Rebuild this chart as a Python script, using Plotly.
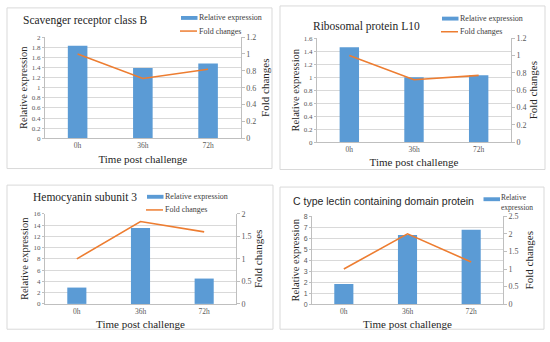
import plotly.graph_objects as go

# ---------------- data ----------------
categories = ["0h", "36h", "72h"]
series_names = ["Relative expression", "Fold changes"]

title_1 = "Scavenger receptor class B"
relative_1 = [1.83, 1.39, 1.48]
fold_1 = [1.0, 0.71, 0.82]

title_2 = "Ribosomal protein L10"
relative_2 = [1.46, 1.0, 1.03]
fold_2 = [1.0, 0.72, 0.77]

title_3 = "Hemocyanin subunit 3"
relative_3 = [2.9, 13.5, 4.5]
fold_3 = [1.0, 1.83, 1.6]

title_4 = "C type lectin containing domain protein"
relative_4 = [1.83, 6.3, 6.78]
fold_4 = [1.0, 2.0, 1.2]

left_ranges = [(2, 0.2), (1.6, 0.2), (16, 2), (8, 1)]
right_ranges = [(1.2, 0.2), (1.2, 0.2), (2, 0.5), (2.5, 0.5)]

# ---------------- layout helpers ----------------
W, H = 550, 342
BAR = "#5B9BD5"
LINE = "#ED7D31"
SERIF = "Liberation Serif"
SANS = "Liberation Sans"
TICK = "#595959"
GRID = "#D9D9D9"
AXIS = "#BFBFBF"
TXT = "#262626"


def px(x):
    return x / W


def py(y):
    return 1 - y / H


panels = [
    dict(title=title_1, rel=relative_1, fold=fold_1,
         plot=(45, 240.7, 34, 138), border=(7, 272, 4, 169),
         title_xy=(21, 17), title_font=(SERIF, 11.5),
         legend_xy=(181, 14.3), legend_both=True, left_tick_font=SERIF,
         right_standoff=6),
    dict(title=title_2, rel=relative_2, fold=fold_2,
         plot=(317, 511, 35, 142), border=(280, 545, 2, 170),
         title_xy=(311, 23), title_font=(SERIF, 11.5),
         legend_xy=(442, 15), legend_both=True, left_tick_font=SERIF,
         right_standoff=2),
    dict(title=title_3, rel=relative_3, fold=fold_3,
         plot=(45, 236, 215.5, 308), border=(7, 273, 186, 334),
         title_xy=(31, 199), title_font=(SERIF, 11.5),
         legend_xy=(147, 198), legend_both=True, left_tick_font=SERIF,
         right_standoff=1),
    dict(title=title_4, rel=relative_4, fold=fold_4,
         plot=(312, 503, 218, 308.3), border=(280, 544, 188, 334),
         title_xy=(291, 202.5), title_font=(SANS, 10.5),
         legend_xy=(483.5, 200.5), legend_both=False, left_tick_font=SANS,
         right_standoff=7),
]

fig = go.Figure()
layout = dict(
    width=W, height=H,
    margin=dict(l=0, r=0, t=0, b=0),
    paper_bgcolor="white", plot_bgcolor="white",
    showlegend=False,
    shapes=[], annotations=[],
    font=dict(family=SERIF, color=TXT),
)

for i, p in enumerate(panels):
    k = i + 1
    xa = "x" if k == 1 else f"x{k}"
    ya1 = f"y{2 * k - 1}" if k > 1 else "y"
    ya2 = f"y{2 * k}"
    xkey = "xaxis" if k == 1 else f"xaxis{k}"
    ykey1 = "yaxis" if k == 1 else f"yaxis{2 * k - 1}"
    ykey2 = f"yaxis{2 * k}"

    x0, x1, y0, y1 = p["plot"]

    fig.add_trace(go.Bar(
        x=categories, y=p["rel"], name=series_names[0],
        marker=dict(color=BAR, line=dict(width=0)), width=0.3,
        xaxis=xa, yaxis=ya1,
    ))
    fig.add_trace(go.Scatter(
        x=categories, y=p["fold"], name=series_names[1], mode="lines",
        line=dict(color=LINE, width=1.6),
        xaxis=xa, yaxis=ya2,
    ))

    lmax, ldt = left_ranges[i]
    rmax, rdt = right_ranges[i]

    layout[xkey] = dict(
        domain=[px(x0), px(x1)], anchor=ya1,
        showline=True, linecolor=AXIS, linewidth=1,
        ticks="", showgrid=False, fixedrange=True,
        tickfont=dict(family=SERIF, size=7.5, color=TICK),
        title=dict(text="Time post challenge", standoff=5,
                   font=dict(family=SERIF, size=11, color=TXT)),
    )
    layout[ykey1] = dict(
        domain=[py(y1), py(y0)], anchor=xa,
        range=[0, lmax], dtick=ldt, tick0=0,
        showline=True, linecolor=AXIS, linewidth=1,
        ticks="outside", ticklen=2, tickcolor=AXIS,
        showgrid=True, gridcolor=GRID, gridwidth=1,
        zeroline=False,
        tickfont=dict(family=p["left_tick_font"], size=7, color=TICK),
        title=dict(text="Relative expression", standoff=2,
                   font=dict(family=SERIF, size=10.5, color=TXT)),
    )
    layout[ykey2] = dict(
        domain=[py(y1), py(y0)], anchor=xa, overlaying=ya1, side="right",
        range=[0, rmax], dtick=rdt, tick0=0,
        showline=True, linecolor=AXIS, linewidth=1,
        ticks="outside", ticklen=3, tickcolor=AXIS,
        showgrid=False, zeroline=False,
        tickfont=dict(family=SERIF, size=8, color=TICK),
        title=dict(text="Fold changes", standoff=p["right_standoff"],
                   font=dict(family=SERIF, size=11, color=TXT)),
    )

    # panel border
    bx0, bx1, by0, by1 = p["border"]
    layout["shapes"].append(dict(
        type="rect", xref="paper", yref="paper",
        x0=px(bx0), x1=px(bx1), y0=py(by1), y1=py(by0),
        line=dict(color=GRID, width=1), fillcolor="rgba(0,0,0,0)", layer="below",
    ))

    # panel title
    tx, ty = p["title_xy"]
    fam, size = p["title_font"]
    layout["annotations"].append(dict(
        text=p["title"], xref="paper", yref="paper",
        x=px(tx), y=py(ty), xanchor="left", yanchor="middle",
        showarrow=False, font=dict(family=fam, size=size, color=TXT),
    ))

    # legend (Excel-style key)
    lx, ly = p["legend_xy"]
    layout["shapes"].append(dict(
        type="rect", xref="paper", yref="paper",
        x0=px(lx), x1=px(lx + 16.5), y0=py(ly + 2), y1=py(ly - 2),
        line=dict(width=0), fillcolor=BAR,
    ))
    if p["legend_both"]:
        layout["annotations"].append(dict(
            text=series_names[0], xref="paper", yref="paper",
            x=px(lx + 16), y=py(ly), xanchor="left", yanchor="middle",
            showarrow=False, font=dict(family=SERIF, size=8, color="#404040"),
        ))
        ly2 = ly + 13.5
        layout["shapes"].append(dict(
            type="line", xref="paper", yref="paper",
            x0=px(lx - 1), x1=px(lx + 16), y0=py(ly2), y1=py(ly2),
            line=dict(color=LINE, width=1.5),
        ))
        layout["annotations"].append(dict(
            text=series_names[1], xref="paper", yref="paper",
            x=px(lx + 16), y=py(ly2), xanchor="left", yanchor="middle",
            showarrow=False, font=dict(family=SERIF, size=8, color="#404040"),
        ))
    else:
        layout["annotations"].append(dict(
            text="Relative<br>expression", xref="paper", yref="paper",
            x=px(lx + 16), y=py(ly - 7.5), xanchor="left", yanchor="top",
            align="left", borderpad=0,
            showarrow=False, font=dict(family=SERIF, size=7.5, color="#404040"),
        ))

fig.update_layout(**layout)
fig.write_html(
    "out.html",
    config={"displayModeBar": False},
    post_script="document.body.style.margin='0px';document.body.style.overflow='hidden';",
)
